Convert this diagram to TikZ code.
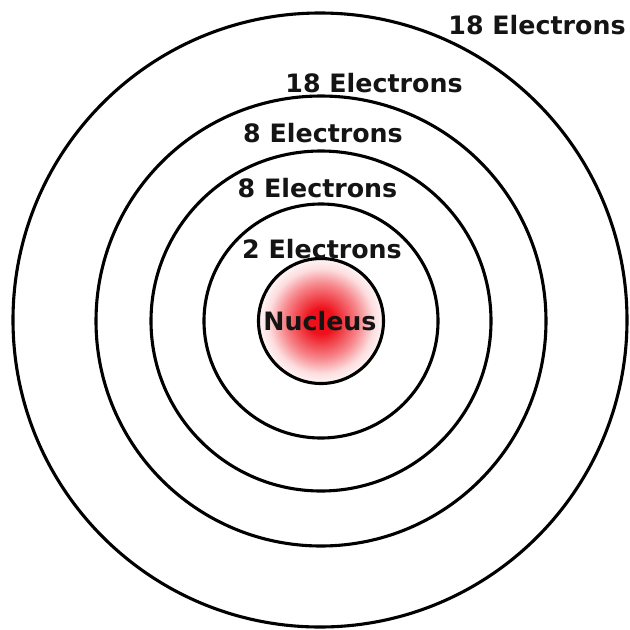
\documentclass[tikz,border=0pt]{standalone}
\usepackage{fontspec}
\setmainfont{DejaVu Sans}
\definecolor{nucred}{RGB}{238,16,26}
\definecolor{textgray}{RGB}{20,20,20}
\pgfdeclareradialshading{nucleusshade}{\pgfpoint{0bp}{0bp}}{color(0bp)=(nucred); color(5bp)=(nucred); color(15bp)=(nucred!50!white); color(21bp)=(nucred!14!white); color(25bp)=(nucred!4!white); color(50bp)=(white)}
\begin{document}
\begin{tikzpicture}[x=1pt,y=-1pt,
  orbit/.style={circle, draw=black, line width=3.1pt, inner sep=0pt},
  shelltext/.style={font=\fontsize{25.3}{30}\selectfont\bfseries, text=textgray, inner sep=0pt, anchor=base}]
\useasboundingbox (0,0) rectangle (630,630);
\fill[white] (0,0) rectangle (630,630);
\coordinate (c) at (321,321);
\node[orbit, minimum size=614pt] (o5) at (320,320) {};
\node[orbit, minimum size=450pt] (o4) at (c) {};
\node[orbit, minimum size=340pt] (o3) at (c) {};
\node[orbit, minimum size=234pt] (o2) at (c) {};
\node[orbit, minimum size=125pt, shade, shading=nucleusshade] (nuc) at (c) {};
\node[shelltext] (t5) at (537,34) {18 Electrons};
\node[shelltext] (t4) at (374,92) {18 Electrons};
\node[shelltext] (t3) at (323,142) {8 Electrons};
\node[shelltext] (t2) at (317.5,197) {8 Electrons};
\node[shelltext] (t1) at (322,258) {2 Electrons};
\node[shelltext] (tn) at (320,330) {Nucleus};
\end{tikzpicture}
\end{document}
